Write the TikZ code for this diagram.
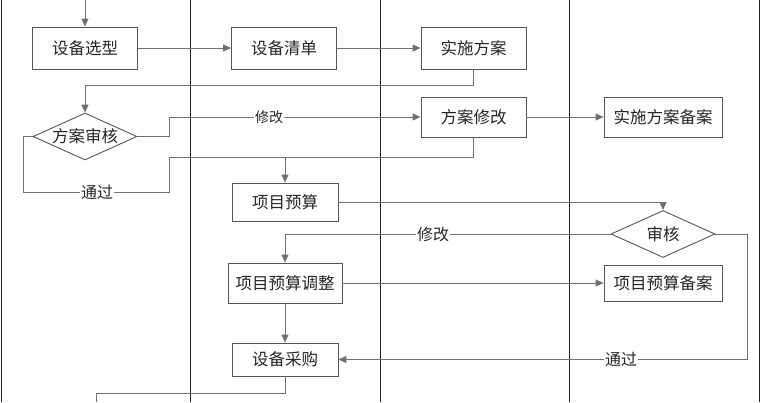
\documentclass[tikz,border=0pt]{standalone}
\usepackage{fontspec}
\newfontfamily\cjk{Noto Sans CJK SC}
\usetikzlibrary{arrows.meta,shapes.geometric}
\definecolor{lanec}{HTML}{222222}
\definecolor{boxc}{HTML}{555555}
\definecolor{linec}{HTML}{707070}
\tikzset{
  box/.style={draw=boxc, line width=0.9pt, fill=white, inner sep=0pt,
    font=\cjk\fontsize{16.5}{18}\selectfont, text=black!85},
  dia/.style={draw=boxc, line width=0.9pt, diamond, fill=white, inner sep=0pt,
    minimum width=104pt, minimum height=47pt, aspect=2.2},
  lane/.style={draw=lanec, line width=0.9pt},
  conn/.style={draw=linec, line width=1pt},
  arr/.style={conn, -{Triangle[length=8pt,width=7pt]}},
  lbl/.style={fill=white, inner sep=1pt, font=\cjk\fontsize{16}{18}\selectfont, text=black!85},
  slbl/.style={fill=white, inner sep=1pt, font=\cjk\fontsize{14}{16}\selectfont, text=black!85},
}
\begin{document}
\begin{tikzpicture}[x=1pt,y=-1pt]
\useasboundingbox (0,0) rectangle (760,402);
\fill[white] (0,0) rectangle (760,402);
% lanes
\foreach \xx in {1,190,380,569,759} { \draw[lane] (\xx,0) -- (\xx,402); }
% nodes
\node[box, minimum width=105pt, minimum height=42pt] (b1) at (85,48) {设备选型};
\node[box, minimum width=105pt, minimum height=42pt] (b2) at (284,48) {设备清单};
\node[box, minimum width=105pt, minimum height=42pt] (b3) at (473.5,48) {实施方案};
\node[dia, label={[font=\cjk\fontsize{16.5}{18}\selectfont, text=black!85]center:方案审核}] (d1) at (85,136.5) {};
\node[box, minimum width=105pt, minimum height=40pt] (b4) at (473.5,117) {方案修改};
\node[box, minimum width=118pt, minimum height=40pt] (b5) at (663,117) {实施方案备案};
\node[box, minimum width=106pt, minimum height=38pt] (b6) at (285,202) {项目预算};
\node[dia, label={[font=\cjk\fontsize{16.5}{18}\selectfont, text=black!85]center:审核}] (d2) at (663,234) {};
\node[box, minimum width=114pt, minimum height=40pt] (b7) at (285,283) {项目预算调整};
\node[box, minimum width=118pt, minimum height=36pt] (b8) at (663,283) {项目预算备案};
\node[box, minimum width=106pt, minimum height=33pt] (b9) at (285,359.5) {设备采购};
\coordinate (top) at (85,0);
\coordinate (bot) at (96,402);
% connectors
\draw[arr] (top) -- (b1);
\draw[arr] (b1) -- (b2);
\draw[arr] (b2) -- (b3);
\draw[arr] (b3.south) -- ++(0,16) -| (d1.north);
\draw[arr] (d1.east) -| (169,117) -- (b4.west);
\node[slbl] at (269,117) {修改};
\draw[arr] (b4) -- (b5);
\draw[arr] (b4.south) |- (285,157) -- (b6.north);
\draw[conn] (d1.west) -| (23,192) -| (169,157) -- (285,157);
\node[lbl] at (97,192) {通过};
\draw[arr] (b6.east) -| (d2.north);
\draw[arr] (d2.west) -| (b7.north);
\node[lbl] at (433,234) {修改};
\draw[arr] (b7) -- (b8);
\draw[arr] (b7) -- (b9);
\draw[arr] (d2.east) -| (747,359.5) -- (b9.east);
\node[lbl] at (621,359.5) {通过};
\draw[conn] (b9.south) |- (96,393) -- (bot);
\end{tikzpicture}
\end{document}
